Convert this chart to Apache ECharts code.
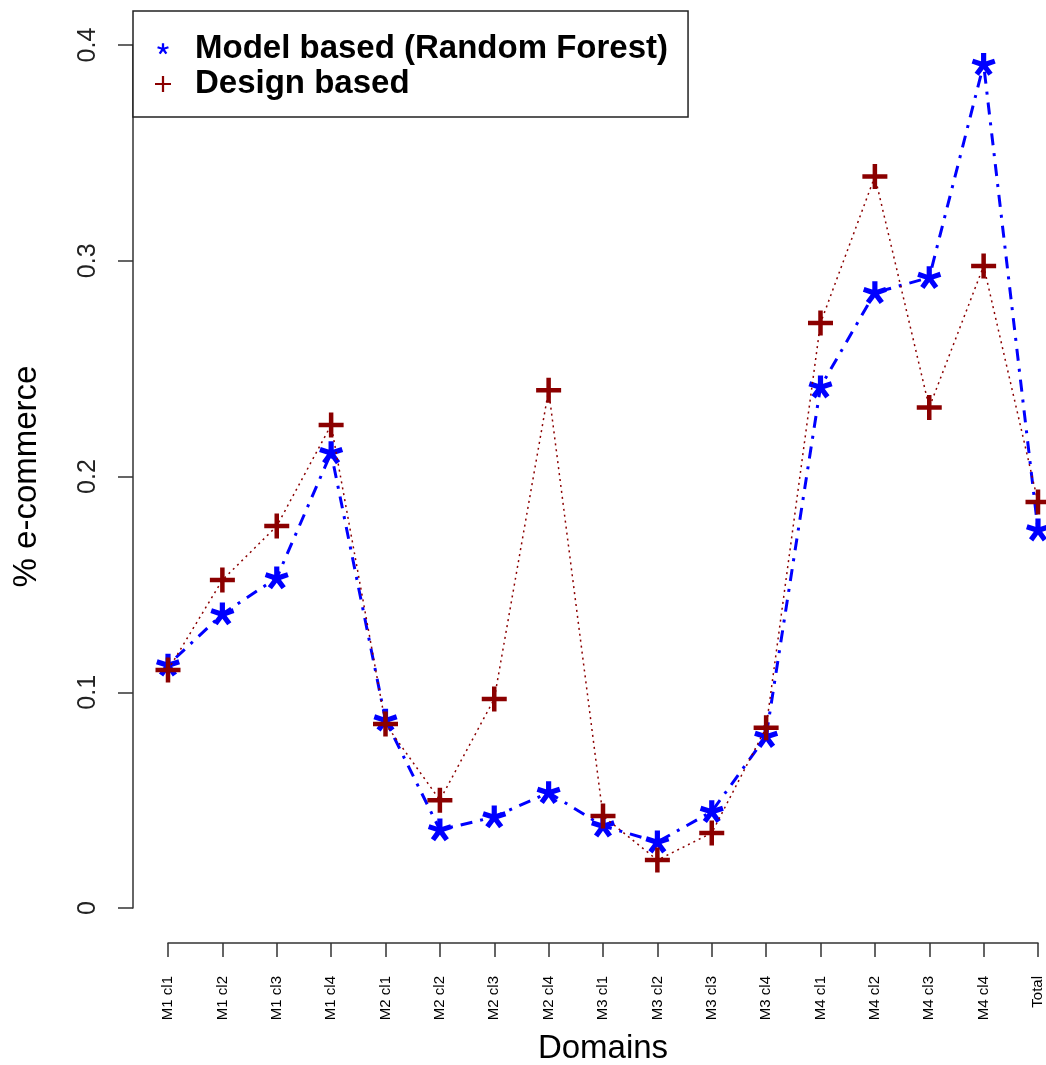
<!DOCTYPE html>
<html>
<head>
<meta charset="utf-8">
<script src="https://cdn.jsdelivr.net/npm/echarts@6/dist/echarts.min.js"></script>
<style>
  html, body { margin: 0; padding: 0; background: #fff; }
  #chart { width: 1046px; height: 1065px; }
</style>
</head>
<body>
<div id="chart"></div>
<script>
const domains = ['M1 cl1', 'M1 cl2', 'M1 cl3', 'M1 cl4', 'M2 cl1', 'M2 cl2', 'M2 cl3', 'M2 cl4',
  'M3 cl1', 'M3 cl2', 'M3 cl3', 'M3 cl4', 'M4 cl1', 'M4 cl2', 'M4 cl3', 'M4 cl4', 'Total'];
const modelBased = [0.1126, 0.1363, 0.153, 0.211, 0.0871, 0.0362, 0.0422, 0.0535,
  0.038, 0.0306, 0.0447, 0.0795, 0.2415, 0.2852, 0.2922, 0.391, 0.1752];
const designBased = [0.1103, 0.152, 0.177, 0.2239, 0.0853, 0.050, 0.0969, 0.240,
  0.0426, 0.0222, 0.0348, 0.0836, 0.2711, 0.3391, 0.2320, 0.2976, 0.1882];
const yTicks = [0, 0.1, 0.2, 0.3, 0.4];

const FONT = 'Liberation Sans, Arial, sans-serif';

// 5 armed asterisk like R's pch="*"
function starPath(n, L, w, pad) {
  const pts = [];
  for (let k = 0; k < n; k++) {
    const th = -Math.PI / 2 + 2 * Math.PI * k / n;
    const dx = Math.cos(th), dy = Math.sin(th);
    const px = -dy, py = dx;
    pts.push([L * dx - w * px, L * dy - w * py]);
    pts.push([L * dx + w * px, L * dy + w * py]);
    const ti = th + Math.PI / n;
    const r = w / Math.sin(Math.PI / n);
    pts.push([r * Math.cos(ti), r * Math.sin(ti)]);
  }
  let d = pad ? 'M' + (-pad) + ',' + (-pad) + ' M' + pad + ',' + pad + ' ' : '';
  d += 'M' + pts.map(p => p[0].toFixed(3) + ',' + p[1].toFixed(3)).join(' L') + ' Z';
  return 'path://' + d;
}
function plusPath(t) {
  return 'path://M' + -t + ',-10 L' + t + ',-10 L' + t + ',' + -t + ' L10,' + -t + ' L10,' + t +
    ' L' + t + ',' + t + ' L' + t + ',10 L' + -t + ',10 L' + -t + ',' + t + ' L-10,' + t +
    ' L-10,' + -t + ' L' + -t + ',' + -t + ' Z';
}

const chart = echarts.init(document.getElementById('chart'));

chart.setOption({
  backgroundColor: '#fff',
  animation: false,
  textStyle: { fontFamily: FONT },
  grid: { left: 168, right: 8, top: 45, bottom: 157, outerBoundsMode: 'none', containLabel: false },
  legend: {
    orient: 'vertical',
    left: 133,
    top: 11,
    padding: [21, 20, 16, 22],
    itemGap: 1,
    itemWidth: 54,
    itemHeight: 16,
    backgroundColor: '#fff',
    borderColor: '#222',
    borderWidth: 1.5,
    borderRadius: 0,
    selectedMode: false,
    textStyle: { fontFamily: FONT, fontSize: 33, fontWeight: 'bold', color: '#000', lineHeight: 34 },
    data: [
      { name: 'Model based (Random Forest)', icon: starPath(5, 10, 2, 14) },
      { name: 'Design based', icon: plusPath(1.4) },
    ],
  },
  xAxis: {
    type: 'category',
    data: domains,
    boundaryGap: false,
    offset: 35,
    axisLine: { onZero: false, lineStyle: { color: '#333', width: 1.5 } },
    axisTick: { length: 14, interval: 0, lineStyle: { color: '#333', width: 1.5 } },
    axisLabel: { interval: 0, rotate: 90, margin: 33, fontSize: 15, color: '#000', fontFamily: FONT },
    splitLine: { show: false },
    name: 'Domains',
    nameLocation: 'middle',
    nameGap: 89,
    nameTextStyle: { fontSize: 33, color: '#000', fontFamily: FONT },
  },
  yAxis: {
    type: 'value',
    min: yTicks[0],
    max: yTicks[yTicks.length - 1],
    interval: 0.1,
    offset: 35,
    axisLine: { show: true, onZero: false, lineStyle: { color: '#333', width: 1.5 } },
    axisTick: { show: true, length: 15, lineStyle: { color: '#333', width: 1.5 } },
    axisLabel: { rotate: 90, margin: 32, fontSize: 25, color: '#222', fontFamily: FONT },
    splitLine: { show: false },
    name: '% e-commerce',
    nameLocation: 'middle',
    nameGap: 90,
    nameTextStyle: { fontSize: 33, color: '#000', fontFamily: FONT },
  },
  series: [
    {
      name: 'Model based (Random Forest)',
      type: 'line',
      data: modelBased,
      symbol: starPath(5, 10, 2.2),
      symbolSize: 24,
      symbolKeepAspect: true,
      color: '#0000ff',
      itemStyle: { color: '#0000ff', borderWidth: 0 },
      lineStyle: { color: '#0000ff', width: 3, type: [3, 8, 12, 8], cap: 'butt' },
      z: 2,
    },
    {
      name: 'Design based',
      type: 'line',
      data: designBased,
      symbol: plusPath(1.8),
      symbolSize: 25,
      color: '#8b0000',
      itemStyle: { color: '#8b0000', borderWidth: 0 },
      lineStyle: { color: '#8b0000', width: 1.5, type: [2, 4] },
      z: 3,
    },
  ],
});
</script>
</body>
</html>
